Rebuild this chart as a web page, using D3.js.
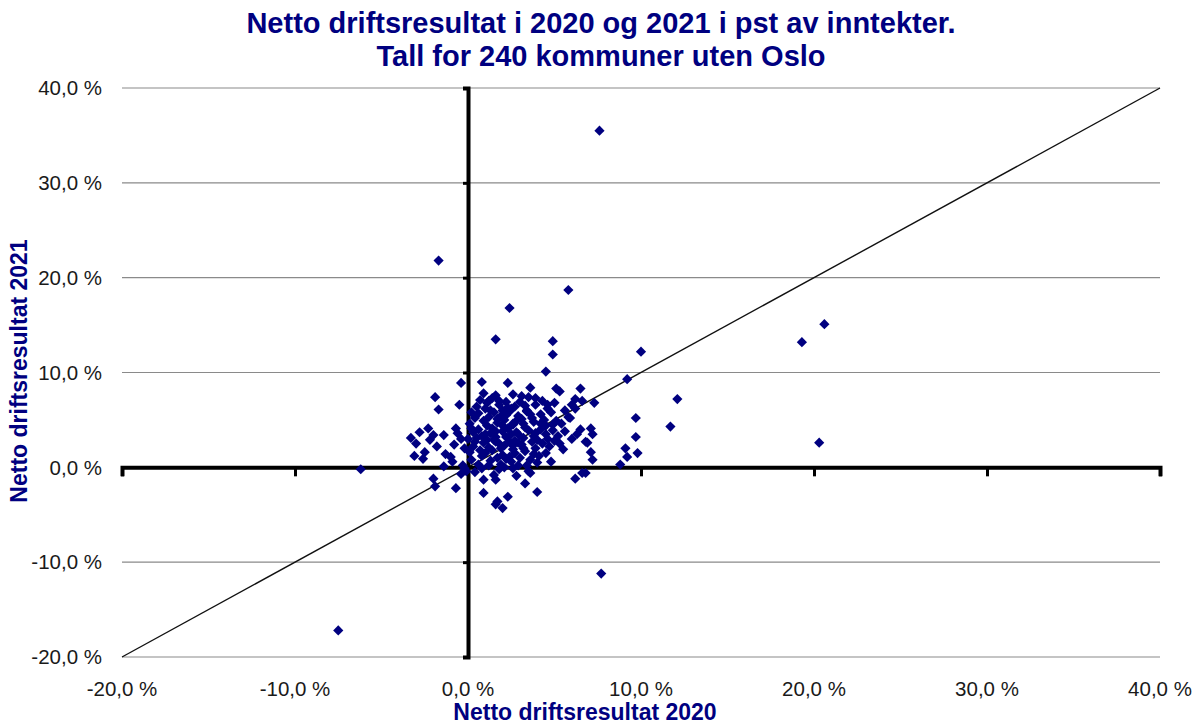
<!DOCTYPE html>
<html lang="en">
<head>
    <meta charset="UTF-8">
    <title>Netto driftsresultat</title>
    <script src="https://cdnjs.cloudflare.com/ajax/libs/d3/7.8.5/d3.min.js"></script>
    <style type="text/css">
        body {
            margin: 0;
            background: #fff;
        }
        text {
            font-family: "Liberation Sans", Arial, sans-serif;
        }
    </style>
</head>
<body>
<div class="container"></div>
</body>
<script>
    const titleLines = ['Netto driftsresultat i 2020 og 2021 i pst av inntekter.', 'Tall for 240 kommuner uten Oslo'];
    const xLabel = 'Netto driftsresultat 2020';
    const yLabel = 'Netto driftsresultat 2021';
    const ticks = [-20, -10, 0, 10, 20, 30, 40];

    // [2020, 2021] in percent
    const outliers = [
        [7.6, 35.5], [-1.7, 21.8], [5.8, 18.7], [2.4, 16.8], [1.6, 13.5], [4.9, 13.3], [4.9, 11.9],
        [10.0, 12.2], [4.5, 10.1], [9.2, 9.3], [19.3, 13.2], [20.6, 15.1], [20.3, 2.6], [12.1, 7.2],
        [11.7, 4.3], [9.7, 5.2], [9.7, 3.2], [9.8, 1.5], [9.1, 2.0], [9.2, 1.1], [8.8, 0.3],
        [7.7, -11.2], [-7.5, -17.2], [-6.2, -0.2]
    ];
    const leftSide = [
        [-1.9, 7.4], [-1.7, 6.1], [-0.5, 6.6], [-0.4, 8.9], [-2.8, 3.7], [-2.3, 4.1], [-3.0, 2.5],
        [-2.2, 2.9], [-2.0, 3.4], [-1.4, 3.4], [-3.1, 1.2], [-2.5, 1.6], [-1.3, 1.4], [-0.9, 0.6],
        [-1.4, 0.1], [-2.0, -1.2], [-1.9, -2.0], [-0.7, -2.2], [-0.1, -0.4], [-0.4, -0.7], [-0.7, 4.1],
        [-0.4, 3.0], [-0.2, 2.0], [-0.8, 2.4], [-1.0, 1.1], [-0.3, 0.2], [-3.3, 3.1], [-2.6, 0.9],
        [-1.8, 2.2], [-0.6, 3.6], [-0.2, -0.1]
    ];
    const rightSide = [
        [5.1, 8.3], [6.5, 8.3], [3.1, 7.5], [3.9, 7.3], [4.6, 6.6], [5.0, 6.8], [6.2, 7.2], [6.2, 6.2],
        [1.8, 7.0], [2.5, 6.2], [3.4, 5.9], [4.2, 5.6], [4.2, 4.6], [4.9, 4.5], [5.6, 3.8], [6.5, 4.0],
        [6.0, 3.0], [5.3, 2.5], [4.5, 3.5], [3.8, 3.3], [3.2, 2.0], [3.9, 2.0], [4.5, 1.5], [4.8, 0.6],
        [6.8, 2.7], [2.7, 1.5], [2.2, 0.9], [3.5, -0.4], [3.3, -1.7], [4.0, -2.6], [6.2, -1.2],
        [6.6, -0.6], [2.3, -3.1], [1.7, -3.6], [2.0, -4.3], [5.3, 8.0], [5.9, 5.2], [2.6, 4.5],
        [2.0, 3.8], [2.9, 3.5], [1.6, 2.7], [7.3, 6.8], [6.6, 7.0], [7.1, 4.1], [7.2, 3.5], [6.9, 2.6],
        [7.1, 1.6], [7.2, 0.8], [6.8, -0.6], [0.9, -1.3], [0.9, -2.7], [1.6, -1.3], [1.6, -3.9],
        [3.6, -0.6], [1.8, -0.2], [2.6, -0.1], [0.8, -0.1], [0.8, 9.0], [2.3, 8.9], [1.2, 7.0]
    ];
    const cluster = [
        [0.3, 2.2], [0.5, 3.1], [0.6, 4.0], [0.4, 5.2], [0.8, 1.2], [0.9, 2.6], [1.0, 3.5], [1.1, 4.4],
        [1.2, 5.3], [1.0, 6.2], [0.7, 7.1], [1.3, 0.7], [1.4, 1.8], [1.5, 2.9], [1.6, 3.8], [1.7, 4.7],
        [1.5, 5.8], [1.8, 6.6], [1.4, 7.3], [1.9, 0.3], [2.0, 1.3], [2.1, 2.3], [2.2, 3.2], [2.3, 4.1],
        [2.1, 5.0], [2.4, 5.9], [2.2, 6.9], [2.5, 0.6], [2.6, 1.9], [2.7, 2.8], [2.8, 3.7], [2.6, 4.6],
        [2.9, 5.4], [2.7, 6.4], [3.0, 1.0], [3.1, 2.4], [3.2, 3.1], [3.3, 4.2], [3.1, 5.1], [3.4, 6.0],
        [3.6, 0.8], [3.7, 2.7], [3.5, 3.9], [3.8, 4.8], [3.6, 5.6], [3.9, 6.6], [4.1, 1.2], [4.0, 2.9],
        [4.2, 4.0], [4.4, 5.0], [4.3, 7.0], [4.7, 2.2], [4.6, 3.0], [4.8, 5.8], [5.2, 3.3], [5.4, 4.6],
        [5.6, 6.0], [0.2, 0.8], [0.1, 1.6], [0.6, 0.3], [1.2, 2.1], [1.8, 2.5], [2.4, 1.1], [0.9, 4.9],
        [1.3, 6.0], [1.7, 1.0], [2.9, 0.2], [3.3, 1.7], [0.5, 6.4], [0.3, 3.7], [1.6, 3.2], [2.0, 4.4],
        [2.5, 3.5], [1.1, 2.9], [0.7, 1.8], [1.9, 5.4], [2.3, 6.3], [2.8, 4.9], [3.0, 6.9], [3.5, 7.4],
        [1.4, 4.1], [0.8, 3.3], [2.6, 2.3], [3.9, 3.6], [4.5, 4.4], [5.0, 2.8], [5.8, 5.3], [6.3, 3.5],
        [6.0, 6.6], [1.2, 0.2], [2.1, 0.0], [0.4, -0.5], [1.5, -0.8], [2.8, -0.9], [3.4, 0.2], [4.0, 0.5],
        [0.9, 7.8], [1.6, 7.6], [2.6, 7.7], [3.6, 8.4], [0.1, 4.6], [0.2, 5.8], [0.0, 3.0], [1.9, 2.0],
        [2.2, 5.5], [3.2, 4.6], [1.0, 1.5], [4.9, 3.9], [5.5, 1.9], [0.4, 2.7], [1.3, 3.6], [2.9, 2.6],
        [3.7, 5.2], [4.3, 2.5], [0.6, 5.7], [1.7, 5.1], [2.4, 2.7], [3.8, 1.4], [5.1, 4.9], [0.2, 4.1],
        [1.1, 6.8], [2.0, 6.0], [3.3, 6.5], [4.6, 6.2]
    ];
    const points = outliers.concat(leftSide, rightSide, cluster);

    const width = 1199;
    const height = 724;
    const margin = {left: 122, right: 39, top: 88, bottom: 67};

    const svg = d3.select('.container')
        .append('svg')
        .attr('width', width)
        .attr('height', height);

    const xScale = d3.scaleLinear()
        .domain([-20, 40])
        .range([margin.left, width - margin.right]);

    const yScale = d3.scaleLinear()
        .domain([-20, 40])
        .range([height - margin.bottom, margin.top]);

    // horizontal grid
    svg.append('g')
        .selectAll('line')
        .data(ticks)
        .enter()
        .append('line')
        .attr('x1', xScale(-20))
        .attr('x2', xScale(40))
        .attr('y1', d => yScale(d))
        .attr('y2', d => yScale(d))
        .attr('stroke', '#8a8a8a')
        .attr('stroke-width', 1.2);

    // y = x reference line
    svg.append('line')
        .attr('x1', xScale(-20))
        .attr('y1', yScale(-20))
        .attr('x2', xScale(40))
        .attr('y2', yScale(40))
        .attr('stroke', '#111')
        .attr('stroke-width', 1.4);

    // axes through zero
    const xAxis = d3.axisBottom(xScale)
        .tickValues(ticks)
        .tickSize(9)
        .tickFormat('');

    const yAxis = d3.axisLeft(yScale)
        .tickValues(ticks)
        .tickSize(5)
        .tickFormat('');

    svg.append('g')
        .attr('class', 'axis x')
        .attr('transform', 'translate(0, ' + yScale(0) + ')')
        .call(xAxis)
        .call(g => g.select('.domain').attr('stroke-width', 4).attr('stroke', '#000'))
        .call(g => g.selectAll('.tick line').attr('stroke-width', 3).attr('stroke', '#000'));

    svg.append('g')
        .attr('class', 'axis y')
        .attr('transform', 'translate(' + xScale(0) + ', 0)')
        .call(yAxis)
        .call(g => g.select('.domain').attr('stroke-width', 4).attr('stroke', '#000'))
        .call(g => g.selectAll('.tick line').attr('stroke-width', 3).attr('stroke', '#000'));

    // tick labels at the chart edges
    const fmt = d => d3.format('.1f')(d).replace('.', ',').replace('\u2212', '-') + ' %';

    svg.append('g')
        .selectAll('text')
        .data(ticks)
        .enter()
        .append('text')
        .attr('x', d => xScale(d))
        .attr('y', yScale(-20) + 39)
        .attr('text-anchor', 'middle')
        .attr('font-size', 20.5)
        .attr('fill', '#1a1a1a')
        .text(fmt);

    svg.append('g')
        .selectAll('text')
        .data(ticks)
        .enter()
        .append('text')
        .attr('x', margin.left - 20)
        .attr('y', d => yScale(d))
        .attr('dy', '0.35em')
        .attr('text-anchor', 'end')
        .attr('font-size', 20.5)
        .attr('fill', '#1a1a1a')
        .text(fmt);

    // points
    const diamond = d3.symbol().type(d3.symbolSquare).size(52);

    svg.append('g')
        .selectAll('path')
        .data(points)
        .enter()
        .append('path')
        .attr('d', diamond)
        .attr('fill', '#000080')
        .attr('transform', d => 'translate(' + xScale(d[0]) + ',' + yScale(d[1]) + ') rotate(45)');

    // titles
    svg.append('text')
        .selectAll('tspan')
        .data(titleLines)
        .enter()
        .append('tspan')
        .attr('x', 601)
        .attr('y', (d, i) => 33 + i * 33)
        .attr('text-anchor', 'middle')
        .attr('font-size', 29)
        .attr('font-weight', 'bold')
        .attr('fill', '#000080')
        .text(d => d);

    svg.append('text')
        .attr('x', 585)
        .attr('y', 720)
        .attr('text-anchor', 'middle')
        .attr('font-size', 23)
        .attr('font-weight', 'bold')
        .attr('fill', '#000080')
        .text(xLabel);

    svg.append('text')
        .attr('transform', 'translate(27, 371) rotate(-90)')
        .attr('text-anchor', 'middle')
        .attr('font-size', 23)
        .attr('font-weight', 'bold')
        .attr('fill', '#000080')
        .text(yLabel);
</script>
</html>
